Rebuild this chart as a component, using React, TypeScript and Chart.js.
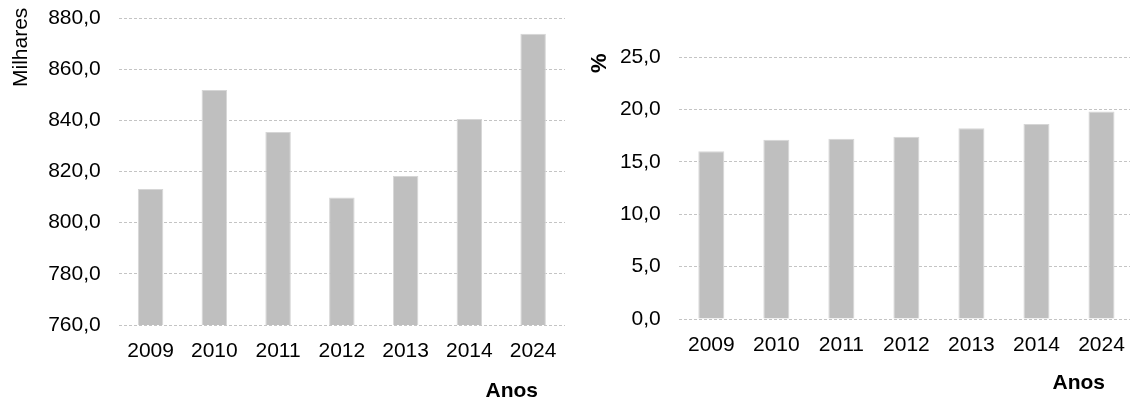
import { useEffect, useRef } from 'react';
import { Chart, registerables } from 'chart.js';

Chart.register(...registerables);

const years = ['2009', '2010', '2011', '2012', '2013', '2014', '2024'];
const milhares = [813.2, 851.9, 835.4, 809.8, 818.2, 840.5, 873.8];
const percentagem = [16.0, 17.1, 17.2, 17.4, 18.2, 18.6, 19.8];
const leftTicks = [760, 780, 800, 820, 840, 860, 880];
const rightTicks = [0, 5, 10, 15, 20, 25];

const FONT = "'Liberation Sans', Arial, sans-serif";
const fmt = (v: number) => v.toFixed(1).replace('.', ',');

const axisTitles = {
  id: 'axisTitles',
  afterDraw(chart: any, _args: any, opts: any) {
    const ctx = chart.ctx;
    ctx.save();
    ctx.fillStyle = '#000';
    ctx.textBaseline = 'alphabetic';
    ctx.save();
    ctx.font = opts.yFont;
    ctx.translate(opts.yX, opts.yY);
    ctx.rotate(-Math.PI / 2);
    ctx.textAlign = 'left';
    ctx.fillText(opts.yText, 0, 0);
    ctx.restore();
    ctx.font = opts.xFont;
    ctx.textAlign = 'right';
    ctx.fillText(opts.xText, opts.xX, opts.xY);
    ctx.restore();
  },
};

function makeConfig(
  values: number[],
  ticks: number[],
  geom: { yWidth: number; xHeight: number; padTop: number; padRight: number },
  titles: any
): any {
  const step = ticks[1] - ticks[0];
  return {
    type: 'bar',
    data: {
      labels: years,
      datasets: [
        {
          data: values,
          backgroundColor: '#bfbfbf',
          borderColor: '#d6d6d6',
          borderWidth: 1,
          categoryPercentage: 1,
          barPercentage: 0.4,
        },
      ],
    },
    plugins: [axisTitles],
    options: {
      animation: false,
      responsive: false,
      maintainAspectRatio: false,
      layout: { padding: { top: geom.padTop, right: geom.padRight, left: 0, bottom: 0 } },
      plugins: {
        legend: { display: false },
        tooltip: { enabled: false },
        axisTitles: titles,
      },
      scales: {
        x: {
          grid: { display: false, drawTicks: false },
          border: { display: false },
          ticks: { color: '#000', font: { family: FONT, size: 21 }, padding: 14, maxRotation: 0 },
          afterFit(scale: any) {
            scale.height = geom.xHeight;
            scale.paddingLeft = 0;
            scale.paddingRight = 0;
          },
        },
        y: {
          min: ticks[0],
          max: ticks[ticks.length - 1],
          grid: { color: '#c4c4c4', drawTicks: false, lineWidth: 1 },
          border: { display: false, dash: [3, 2] },
          ticks: {
            stepSize: step,
            color: '#000',
            font: { family: FONT, size: 21 },
            padding: 18,
            callback: (v: number) => fmt(v),
          },
          afterFit(scale: any) {
            scale.width = geom.yWidth;
            scale.paddingTop = 0;
            scale.paddingBottom = 0;
          },
        },
      },
    },
  };
}

function BarChart({ width, height, config }: { width: number; height: number; config: any }) {
  const ref = useRef<HTMLCanvasElement>(null);
  useEffect(() => {
    if (!ref.current) return;
    const chart = new Chart(ref.current, config);
    return () => chart.destroy();
  }, []);
  return <canvas ref={ref} width={width} height={height} style={{ display: 'block', width, height }} />;
}

export default function App() {
  const leftConfig = makeConfig(
    milhares,
    leftTicks,
    { yWidth: 118.7, xHeight: 77, padTop: 18, padRight: 5 },
    {
      yText: 'Milhares',
      yFont: `21px ${FONT}`,
      yX: 27,
      yY: 87,
      xText: 'Anos',
      xFont: `bold 21px ${FONT}`,
      xX: 538,
      xY: 397,
    }
  );
  const rightConfig = makeConfig(
    percentagem,
    rightTicks,
    { yWidth: 108.8, xHeight: 83, padTop: 57, padRight: 0 },
    {
      yText: '%',
      yFont: `bold 22px ${FONT}`,
      yX: 36,
      yY: 73,
      xText: 'Anos',
      xFont: `bold 21px ${FONT}`,
      xX: 535,
      xY: 389,
    }
  );
  return (
    <div
      style={{
        position: 'fixed',
        left: 0,
        top: 0,
        width: 1130,
        height: 402,
        overflow: 'hidden',
        background: '#fff',
      }}
    >
      <div style={{ position: 'absolute', left: 0, top: 0 }}>
        <BarChart width={570} height={402} config={leftConfig} />
      </div>
      <div style={{ position: 'absolute', left: 570, top: 0 }}>
        <BarChart width={564} height={402} config={rightConfig} />
      </div>
    </div>
  );
}
